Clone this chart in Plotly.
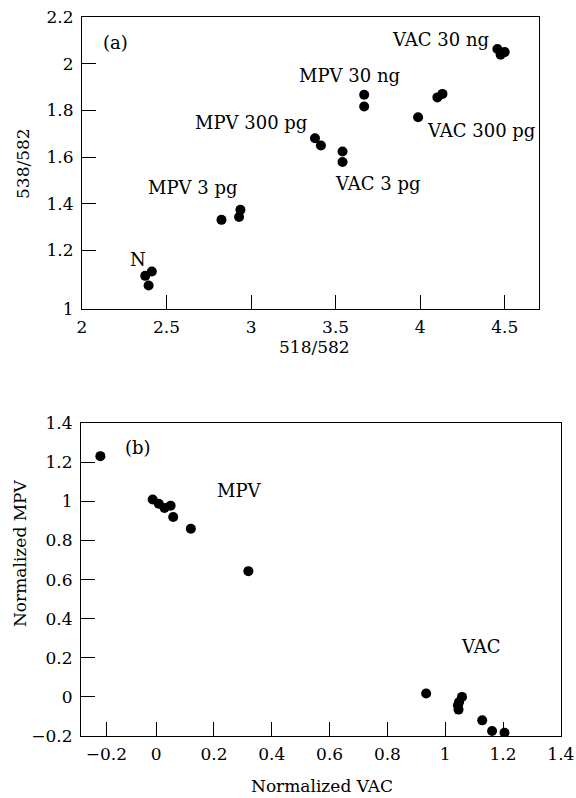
import plotly.graph_objects as go

# Panel (a): 518/582 vs 538/582
a_x = [2.374, 2.413, 2.394,
       2.825, 2.929, 2.937,
       3.378, 3.413,
       3.541, 3.541,
       3.669, 3.669,
       3.988, 4.102, 4.132,
       4.457, 4.476, 4.500]
a_y = [1.091, 1.110, 1.050,
       1.331, 1.343, 1.374,
       1.681, 1.650,
       1.624, 1.579,
       1.867, 1.817,
       1.771, 1.856, 1.871,
       2.063, 2.039, 2.050]
a_labels = ["(a)", "N", "MPV 3 pg", "MPV 300 pg", "MPV 30 ng", "VAC 3 pg", "VAC 300 pg", "VAC 30 ng"]
a_label_x = [2.197, 2.331, 2.656, 3.000, 3.581, 3.752, 4.362, 4.122]
a_label_y = [2.093, 1.163, 1.470, 1.749, 1.949, 1.489, 1.713, 2.106]
a_xticks = [2, 2.5, 3, 3.5, 4, 4.5]
a_xticktext = ["2", "2.5", "3", "3.5", "4", "4.5"]
a_yticks = [0.949, 1.2, 1.4, 1.6, 1.8, 2.0, 2.2]
a_yticktext = ["1", "1.2", "1.4", "1.6", "1.8", "2", "2.2"]

# Panel (b): Normalized VAC vs Normalized MPV
b_x = [-0.193, -0.012, 0.009, 0.029, 0.050, 0.059, 0.120, 0.319,
       0.934, 1.058, 1.048, 1.044, 1.046, 1.128, 1.162, 1.205]
b_y = [1.231, 1.009, 0.988, 0.966, 0.978, 0.920, 0.860, 0.643,
       0.017, 0.000, -0.026, -0.043, -0.065, -0.120, -0.174, -0.183]
b_labels = ["(b)", "MPV", "VAC"]
b_label_x = [-0.063, 0.287, 1.124]
b_label_y = [1.277, 1.056, 0.256]
b_xticks = [-0.172, 0, 0.2, 0.4, 0.6, 0.8, 1.0, 1.2, 1.4]
b_xticktext = ["\u22120.2", "0", "0.2", "0.4", "0.6", "0.8", "1", "1.2", "1.4"]
b_yticks = [-0.2, 0, 0.2, 0.4, 0.6, 0.8, 1.0, 1.2, 1.4]
b_yticktext = ["\u22120.2", "0", "0.2", "0.4", "0.6", "0.8", "1", "1.2", "1.4"]

FONT = "DejaVu Serif"
FS = 17
FS_LAB = 18

fig = go.Figure()
fig.add_trace(go.Scatter(x=a_x, y=a_y, mode="markers", xaxis="x", yaxis="y",
                         marker=dict(size=10, color="black"), showlegend=False))
fig.add_trace(go.Scatter(x=b_x, y=b_y, mode="markers", xaxis="x2", yaxis="y2",
                         marker=dict(size=10, color="black"), showlegend=False))

axis_common = dict(showgrid=False, zeroline=False, showline=True, linecolor="black",
                   linewidth=1.2, mirror=True, ticks="inside", ticklen=14,
                   tickcolor="black", tickwidth=1, automargin=False,
                   ticklabeloverflow="allow",
                   tickfont=dict(family=FONT, size=FS, color="black"))

W, H = 576, 798


def px(v):
    return v / W


def py(v):
    return 1 - v / H


fig.update_layout(
    width=W, height=H,
    margin=dict(l=0, r=0, t=0, b=0),
    paper_bgcolor="white", plot_bgcolor="white",
    font=dict(family=FONT, size=FS, color="black"),
    xaxis=dict(domain=[px(82), px(539)], range=[2, 4.703], anchor="y",
               tickmode="array", tickvals=a_xticks, ticktext=a_xticktext,
               ticklabelstandoff=2, **axis_common),
    yaxis=dict(domain=[py(309), py(17)], range=[0.949, 2.2005], anchor="x",
               tickmode="array", tickvals=a_yticks, ticktext=a_yticktext,
               ticklabelstandoff=4, **axis_common),
    xaxis2=dict(domain=[px(81), px(561)], range=[-0.26, 1.4005], anchor="y2",
                tickmode="array", tickvals=b_xticks, ticktext=b_xticktext,
                ticklabelstandoff=2, **axis_common),
    yaxis2=dict(domain=[py(736), py(423)], range=[-0.2, 1.4005], anchor="x2",
                tickmode="array", tickvals=b_yticks, ticktext=b_yticktext,
                ticklabelstandoff=4, **axis_common),
)

for t, x, y in zip(a_labels, a_label_x, a_label_y):
    fig.add_annotation(x=x, y=y, xref="x", yref="y", text=t, showarrow=False,
                       font=dict(family=FONT, size=FS_LAB, color="black"))
for t, x, y in zip(b_labels, b_label_x, b_label_y):
    fig.add_annotation(x=x, y=y, xref="x2", yref="y2", text=t, showarrow=False,
                       font=dict(family=FONT, size=FS_LAB, color="black"))

# Axis titles
titles = [("518/582", 314, 347, 0),
          ("538/582", 23, 164, -90),
          ("Normalized VAC", 322, 786, 0),
          ("Normalized MPV", 20, 553, -90)]
for t, x, y, ang in titles:
    fig.add_annotation(x=px(x), y=py(y), xref="paper", yref="paper", text=t, showarrow=False,
                       textangle=ang, xanchor="center", yanchor="middle",
                       font=dict(family=FONT, size=FS, color="black"))

fig.write_html("out.html",
               config={"displayModeBar": False},
               post_script="document.body.style.margin='0';document.body.style.overflow='hidden';")
